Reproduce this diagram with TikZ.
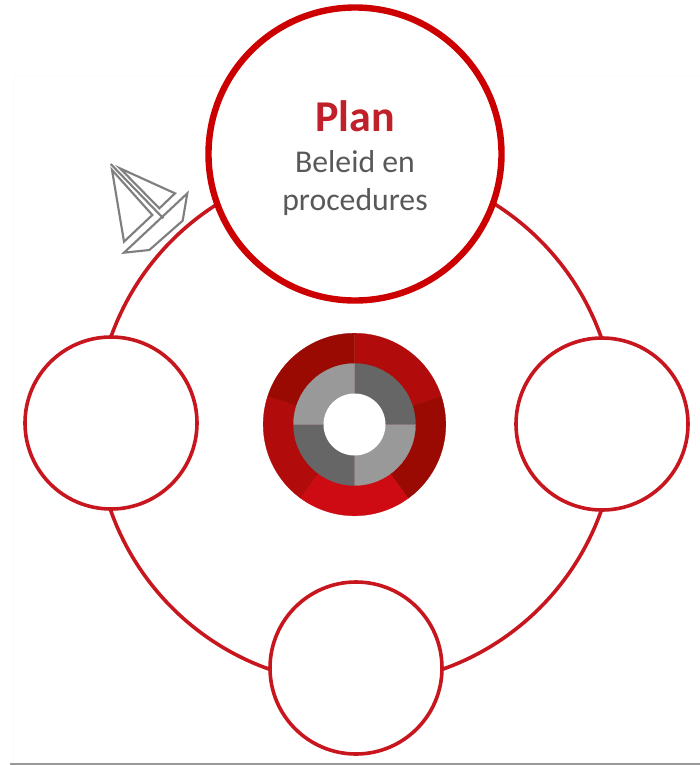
\documentclass[tikz,border=0pt]{standalone}
\usepackage{fontspec}
\setmainfont{Carlito}
\definecolor{ringred}{HTML}{C8161E}
\definecolor{bigred}{HTML}{CC0000}
\definecolor{planred}{HTML}{C0202A}
\definecolor{segA}{HTML}{B20B0B}
\definecolor{segB}{HTML}{9A0A02}
\definecolor{segC}{HTML}{CE0A12}
\definecolor{greyD}{HTML}{666666}
\definecolor{greyL}{HTML}{999999}
\definecolor{txt}{HTML}{595959}
\definecolor{boat}{HTML}{7F7F7F}
\definecolor{faint}{HTML}{FBFBFB}
\tikzset{
  smallcirc/.style={circle,draw=ringred,line width=2.7pt,fill=white,minimum size=129pt,inner sep=0pt,outer sep=0pt},
  bigcirc/.style={circle,draw=bigred,line width=4.8pt,fill=white,minimum size=219.75pt,inner sep=0pt,outer sep=0pt},
  boatline/.style={draw=boat,line width=1.6pt,line join=miter},
  bodytext/.style={anchor=base,inner sep=0pt,text=txt,font=\fontsize{23.8}{24}\selectfont}
}
\newcommand{\oseg}[3]{\filldraw[fill=#3,draw=#3,line width=0.2pt] (354.5,424.5) -- ++(#1:91.3) arc[start angle=#1,end angle=#2,radius=91.3] -- cycle;}
\newcommand{\iseg}[3]{\filldraw[fill=#3,draw=#3,line width=0.2pt] (354.5,424.5) -- ++(#1:61) arc[start angle=#1,end angle=#2,radius=61] -- cycle;}
\begin{document}
\begin{tikzpicture}[x=0.75pt,y=-0.75pt]
\useasboundingbox (0,0) rectangle (700,765);
\fill[white] (0,0) rectangle (700,765);
% faint frame and bottom rule
\draw[faint,line width=0.7pt] (13,764) -- (13,76) -- (700,76);
\draw[greyL,line width=1.3pt] (10,764.3) -- (700,764.3);
% main ring
\coordinate (centre) at (356,424);
\draw[ringred,line width=2.7pt] (centre) circle[radius=260];
% small circles
\node[smallcirc] (left) at (111,423) {};
\node[smallcirc] (right) at (602,424) {};
\node[smallcirc] (bottom) at (356,668) {};
\node[bigcirc] (plan) at (355,154) {};
\node[anchor=base,inner sep=0pt,font=\bfseries\fontsize{33}{33}\selectfont,text=planred] (plantitle) at (355,131) {Plan};
\node[bodytext] (planline1) at (355,172) {Beleid en};
\node[bodytext] (planline2) at (355,210) {procedures};
% centre donut (y axis points down, so angles are negated)
\oseg{-90}{-18}{segA}
\oseg{-18}{54}{segB}
\oseg{126}{198}{segA}
\oseg{198}{270}{segB}
\oseg{54}{126}{segC}
\iseg{-90}{0}{greyD}
\iseg{90}{180}{greyD}
\iseg{0}{90}{greyL}
\iseg{180}{270}{greyL}
\fill[white] (354.5,424.5) circle[radius=31];
% boat logo
\begin{scope}[shift={(90,150)},x=0.25pt,y=-0.25pt]
\draw[boatline] (66,60) -- (102,275) -- (187,195) -- cycle;
\draw[boatline] (62,42) -- (220,205);
\draw[boatline] (90,55) -- (255,130) -- (208,175) -- cycle;
\draw[boatline] (292,130) -- (102,308) -- (178,300) -- (278,212) -- cycle;
\end{scope}
\end{tikzpicture}
\end{document}
